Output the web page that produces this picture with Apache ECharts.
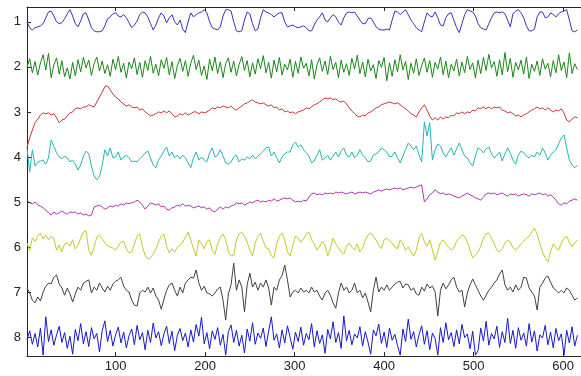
<!DOCTYPE html>
<html>
<head>
<meta charset="utf-8">
<script src="https://cdn.jsdelivr.net/npm/echarts@6/dist/echarts.min.js"></script>
<style>
  html, body { margin: 0; padding: 0; background: #fff; }
  #chart { width: 581px; height: 376px; }
</style>
</head>
<body>
<div id="chart"></div>
<script>
// samples are every 3 points starting at 1
const xStart = 1;
const xStep = 3;
const xTicks = [100, 200, 300, 400, 500, 600];
const yTicks = [1, 2, 3, 4, 5, 6, 7, 8];

const ch1 = [
  1.00,1.13,1.18,1.13,1.11,1.09,1.04,0.91,0.78,0.76,
  0.87,1.00,1.04,1.02,0.93,0.82,0.73,0.87,1.04,1.11,
  0.98,0.82,0.80,0.96,1.13,1.20,1.22,1.22,1.20,1.09,
  0.93,0.89,0.82,0.80,0.87,0.89,0.84,0.91,1.02,1.13,
  1.07,0.98,0.84,0.78,0.80,0.89,1.04,1.18,1.07,0.91,
  0.80,0.87,1.02,0.91,0.84,1.00,1.07,0.96,1.16,1.24,
  1.00,0.80,0.89,0.84,0.80,0.78,0.73,0.80,1.00,1.13,
  1.16,1.18,1.11,0.87,0.73,0.73,0.76,1.00,1.20,1.22,
  1.20,0.96,0.78,0.82,1.04,1.20,1.16,0.91,0.73,0.78,
  0.80,0.84,0.89,0.84,0.80,0.80,1.00,1.11,1.09,1.07,
  1.11,1.13,1.11,1.09,1.13,1.20,1.20,1.07,0.96,0.89,
  0.80,0.96,1.00,0.91,0.84,0.89,1.00,1.07,0.91,0.80,
  0.78,0.80,0.78,0.87,0.96,1.04,1.04,0.93,0.91,1.00,
  1.11,1.16,1.18,1.18,1.16,1.18,0.96,0.76,0.78,0.84,
  0.78,0.73,0.84,0.96,1.04,1.13,1.18,1.22,1.00,0.80,
  0.87,0.89,0.78,0.91,1.07,1.09,0.91,0.82,0.80,0.96,
  1.13,1.24,1.04,0.84,0.73,0.76,0.78,0.87,1.04,1.13,
  1.16,1.18,1.04,0.91,0.80,0.78,0.80,0.78,0.82,0.96,
  1.11,0.82,0.76,0.73,0.80,0.91,1.09,1.20,1.20,1.16,
  0.89,0.78,0.78,0.91,0.89,0.80,0.84,0.89,0.82,0.78,
  0.76,0.73,0.96,1.20,1.22,1.18
];

const ch2 = [
  2.00,1.82,2.13,1.88,2.18,1.91,1.73,2.07,1.70,2.24,
  1.96,1.80,2.16,1.86,2.22,2.02,2.27,1.90,2.20,1.84,
  2.11,1.79,2.02,1.85,2.19,1.93,1.78,2.09,1.87,2.15,
  1.95,2.21,1.83,2.06,1.77,2.12,1.92,2.25,1.89,2.04,
  1.80,2.17,1.90,2.23,1.86,2.08,1.76,2.14,1.94,2.20,
  1.84,2.03,1.79,2.18,1.88,2.26,1.97,1.81,2.10,1.86,
  2.21,1.92,1.74,2.06,1.85,2.19,1.98,2.28,1.83,2.09,
  1.78,2.15,1.89,2.24,1.93,1.80,2.12,1.87,2.20,1.95,
  1.77,2.08,1.86,2.22,1.91,2.16,1.82,2.04,1.75,2.13,
  1.90,2.25,1.85,2.11,1.79,2.18,1.94,2.07,1.83,2.23,
  1.88,2.14,1.78,2.03,1.92,2.20,1.84,2.27,1.96,1.80,
  2.10,1.87,2.17,1.76,2.06,1.90,2.24,1.85,2.12,1.93,
  2.19,1.81,2.05,1.74,2.15,1.89,2.22,1.83,2.09,1.95,
  2.26,1.86,2.01,1.79,2.31,1.91,2.21,1.84,2.11,1.73,
  2.07,1.88,2.28,1.92,2.14,1.82,2.19,1.97,1.80,2.12,
  1.86,2.23,1.90,2.05,1.78,2.17,1.87,2.24,1.94,2.09,
  1.83,2.20,1.89,2.13,1.77,2.06,1.91,2.25,1.85,2.15,
  1.79,2.08,1.72,2.02,1.88,2.21,1.84,2.18,1.68,2.11,
  1.81,2.23,1.90,2.07,1.85,2.16,1.78,2.26,1.94,2.10,
  1.87,2.19,1.82,2.05,1.92,2.22,1.86,2.13,1.73,2.08,
  1.89,2.24,1.69,2.15,1.93,2.06
];

const ch3 = [
  3.78,3.58,3.40,3.24,3.16,3.07,3.02,3.04,3.02,3.07,
  3.04,3.13,3.24,3.18,3.16,3.09,3.02,3.00,2.93,2.91,
  2.93,2.89,2.89,2.84,2.87,2.89,2.78,2.67,2.56,2.44,
  2.42,2.51,2.60,2.67,2.71,2.78,2.82,2.87,2.84,2.89,
  2.91,2.89,2.96,2.93,3.00,3.04,3.09,3.07,3.04,3.00,
  3.02,2.98,3.02,2.98,3.04,3.11,3.09,3.04,3.07,3.02,
  3.07,3.04,3.00,3.00,3.04,3.00,3.02,3.00,2.96,2.91,
  2.93,2.89,2.91,2.87,2.89,2.91,2.87,2.93,2.96,2.91,
  2.87,2.82,2.80,2.76,2.73,2.78,2.80,2.82,2.80,2.84,
  2.87,2.84,2.91,2.89,2.96,2.93,3.00,2.98,3.02,3.00,
  3.04,3.00,2.98,2.96,2.91,2.93,2.89,2.84,2.82,2.78,
  2.73,2.69,2.71,2.69,2.73,2.71,2.76,2.78,2.76,2.82,
  2.91,2.98,3.04,3.09,3.11,3.07,3.09,3.02,3.00,2.96,
  2.91,2.89,2.84,2.82,2.80,2.78,2.80,2.82,2.80,2.84,
  2.89,2.93,2.98,3.04,3.07,3.11,3.00,2.91,2.84,2.96,
  3.09,3.18,3.13,3.18,3.11,3.16,3.11,3.13,3.07,3.09,
  3.02,3.04,3.00,3.04,3.00,3.02,2.96,2.98,2.91,2.93,
  2.89,2.93,2.89,2.93,2.89,2.91,2.89,2.96,2.98,3.02,
  3.00,3.04,3.09,3.07,3.11,3.07,3.04,3.00,2.96,2.93,
  2.89,2.93,2.91,2.96,2.91,2.96,3.00,2.96,2.98,2.93,
  3.02,3.18,3.22,3.16,3.11,3.13
];

const ch4 = [
  3.80,4.33,3.84,4.20,4.11,4.09,4.07,4.16,4.02,3.62,
  3.76,3.91,4.00,4.04,3.98,4.02,4.11,4.07,4.16,4.29,
  4.18,3.98,3.87,3.93,4.20,4.42,4.51,4.44,4.18,3.84,
  3.98,3.80,4.02,4.00,3.89,4.07,4.00,3.96,4.02,4.11,
  4.09,4.11,4.04,3.98,3.91,3.87,4.02,4.18,4.24,4.07,
  3.98,3.87,3.78,3.98,3.89,4.02,3.96,4.04,3.96,4.02,
  4.13,4.24,4.02,3.89,4.07,4.00,4.07,4.11,3.91,3.80,
  4.00,3.96,3.84,3.98,4.13,4.16,4.11,4.00,3.96,4.11,
  4.04,4.07,4.00,4.04,3.96,4.04,3.98,3.93,3.87,3.80,
  3.78,3.98,3.89,4.02,4.13,4.00,3.93,3.89,3.89,3.73,
  3.67,3.78,3.73,3.84,3.91,3.98,4.13,4.09,3.96,3.84,
  4.07,4.02,3.96,4.07,3.98,3.89,4.00,3.87,3.80,3.96,
  4.00,3.89,4.02,3.96,3.84,3.96,4.02,4.11,4.09,3.96,
  3.93,3.89,3.80,3.84,3.89,4.00,3.98,3.89,4.02,4.13,
  3.98,3.84,3.69,3.76,3.84,3.76,3.96,4.11,3.22,3.53,
  3.24,4.07,3.84,3.71,3.76,3.91,4.00,3.89,3.80,3.96,
  3.82,3.69,3.84,3.98,4.02,4.13,4.20,3.98,3.80,3.84,
  3.91,3.82,3.78,3.93,4.02,3.96,3.89,4.09,3.93,3.80,
  3.91,4.07,4.16,3.96,3.87,3.91,3.98,4.02,3.96,4.00,
  3.89,3.96,3.80,3.91,4.07,3.96,3.89,3.84,3.71,3.58,
  3.51,3.80,4.07,4.18,4.24,4.18
];

const ch5 = [
  4.96,5.02,5.04,5.00,5.07,5.09,5.13,5.18,5.24,5.29,
  5.22,5.27,5.24,5.20,5.24,5.27,5.22,5.24,5.22,5.27,
  5.24,5.29,5.27,5.31,5.29,5.11,5.09,5.07,5.11,5.16,
  5.13,5.09,5.11,5.07,5.09,5.04,5.07,5.02,5.04,5.02,
  5.00,4.96,5.00,5.07,5.16,5.09,5.02,5.04,5.07,5.04,
  5.11,5.09,5.16,5.18,5.13,5.11,5.07,5.09,5.04,5.09,
  5.07,5.09,5.13,5.11,5.09,5.13,5.11,5.16,5.13,5.20,
  5.22,5.16,5.11,5.16,5.11,5.13,5.09,5.07,5.02,5.04,
  5.02,5.07,5.04,5.00,5.02,4.98,4.96,5.00,4.98,5.00,
  4.96,4.98,4.93,4.98,4.96,4.93,4.91,4.93,4.91,4.96,
  5.00,4.98,5.00,4.96,4.98,4.89,4.82,4.80,4.84,4.82,
  4.84,4.80,4.82,4.80,4.82,4.78,4.80,4.78,4.80,4.82,
  4.80,4.78,4.82,4.80,4.78,4.80,4.78,4.80,4.82,4.78,
  4.76,4.73,4.76,4.73,4.71,4.73,4.71,4.69,4.71,4.69,
  4.73,4.71,4.69,4.67,4.69,4.67,4.64,4.62,5.00,4.93,
  4.84,4.80,4.73,4.78,4.82,4.80,4.84,4.82,4.84,4.87,
  4.89,4.91,4.87,4.84,4.80,4.84,4.87,4.91,4.93,4.96,
  4.89,4.82,4.80,4.82,4.80,4.84,4.82,4.80,4.84,4.87,
  4.82,4.84,4.82,4.87,4.84,4.82,4.84,4.87,4.82,4.84,
  4.82,4.80,4.84,4.82,4.87,4.84,4.89,4.96,5.04,5.07,
  5.02,5.04,4.98,4.96,4.93,4.96
];

const ch6 = [
  5.91,6.07,5.80,5.87,5.76,5.69,5.82,5.73,5.84,5.76,
  5.80,6.07,5.96,6.11,5.93,5.91,5.98,5.84,6.04,5.96,
  5.80,5.67,5.64,6.07,6.18,6.00,5.78,5.73,5.82,5.91,
  5.98,6.00,6.02,6.07,5.98,5.89,5.87,6.04,6.13,6.11,
  5.93,5.76,5.71,6.00,6.18,6.27,6.24,6.16,6.04,5.89,
  5.76,5.71,5.98,6.13,6.04,6.11,6.00,5.96,5.89,5.78,
  5.67,5.84,6.04,6.20,5.84,5.93,6.04,5.87,5.84,6.07,
  6.16,5.93,5.80,5.71,5.84,6.11,6.20,6.18,5.84,5.71,
  5.67,5.76,5.89,6.07,6.20,5.91,5.76,5.69,5.87,6.02,
  6.04,6.20,6.24,5.93,5.76,5.69,5.84,6.11,6.20,5.96,
  5.76,5.80,5.89,5.82,5.71,5.67,5.84,5.93,6.07,5.98,
  5.87,5.96,6.20,6.04,5.80,5.93,6.02,6.11,6.16,5.98,
  5.91,6.00,6.07,5.93,6.11,6.02,5.84,5.73,5.69,5.76,
  5.84,5.96,6.04,5.84,5.80,5.87,5.91,6.00,6.04,5.84,
  5.93,6.07,6.00,6.11,6.20,6.07,5.80,5.69,5.89,5.98,
  5.84,6.07,6.29,6.11,5.89,5.84,5.93,6.00,6.07,6.02,
  5.87,5.80,5.73,5.76,5.89,6.07,6.24,6.18,6.11,5.98,
  5.80,5.71,5.69,5.80,5.93,6.07,6.11,6.04,5.91,5.84,
  5.89,6.02,6.07,6.00,5.93,5.87,5.80,5.76,5.67,5.58,
  5.71,5.93,6.11,6.24,6.33,6.11,5.93,6.02,6.07,5.91,
  5.80,5.76,5.89,6.00,5.91,5.84
];

const ch7 = [
  6.91,7.02,7.18,7.24,7.11,7.20,7.00,6.87,6.80,6.82,
  6.67,6.62,6.82,6.91,7.07,6.91,7.04,7.22,7.04,6.89,
  6.96,6.80,6.76,6.73,7.02,6.89,6.96,6.80,6.91,7.00,
  6.87,6.96,6.82,6.76,6.73,6.67,6.87,6.96,7.00,7.18,
  7.29,7.31,7.02,6.96,7.00,6.89,7.02,6.91,7.09,7.18,
  7.38,7.16,6.96,6.84,6.80,6.96,7.09,6.89,7.02,6.80,
  6.73,6.67,6.69,6.51,6.80,6.96,6.87,7.02,7.04,7.09,
  7.02,6.93,6.89,7.18,7.62,7.04,6.84,6.36,6.96,6.73,
  6.89,7.44,6.84,6.58,6.89,6.78,6.96,6.80,6.89,6.73,
  6.91,7.29,6.89,6.96,6.73,6.64,6.40,6.73,7.11,7.00,
  6.96,7.02,6.91,7.00,6.96,7.02,6.89,7.00,6.96,7.09,
  7.18,7.02,6.96,7.07,7.24,7.36,7.02,6.80,6.96,6.89,
  7.02,6.96,6.80,7.02,6.96,7.13,7.02,7.22,7.44,6.96,
  6.67,7.00,6.89,6.96,6.84,6.96,6.89,6.82,6.78,6.76,
  6.91,6.82,6.84,6.96,6.91,7.04,7.07,6.89,6.98,6.82,
  6.91,6.87,7.00,7.53,6.96,6.80,6.93,6.84,6.73,6.67,
  6.89,7.00,6.96,7.33,7.02,6.84,6.71,6.84,6.96,7.09,
  7.18,7.07,6.96,6.89,6.80,6.73,6.60,6.51,6.84,6.96,
  6.89,7.00,6.84,6.96,6.89,6.67,6.69,6.91,7.00,7.09,
  7.40,6.89,6.80,6.69,6.64,6.78,6.91,6.96,7.02,6.96,
  7.02,6.91,6.96,7.07,7.18,7.13
];

const ch8 = [
  8.05,7.86,8.16,7.92,8.22,7.80,8.40,7.55,8.10,7.84,
  8.18,7.95,7.76,8.12,7.90,8.25,7.98,8.38,7.83,8.08,
  7.70,8.15,7.88,8.21,7.79,8.04,7.92,8.33,7.86,7.64,
  8.10,7.85,8.20,7.95,7.78,8.13,7.89,8.24,7.97,7.82,
  8.17,7.74,8.06,7.90,8.28,7.85,8.12,7.69,8.02,7.88,
  8.19,7.93,7.76,8.14,7.87,8.30,7.96,7.81,8.08,7.91,
  8.22,7.84,8.11,7.72,7.98,7.56,8.15,7.90,8.26,7.86,
  8.05,7.79,8.18,7.94,8.40,7.88,7.73,8.12,7.85,8.20,
  7.96,8.35,7.82,8.09,7.68,8.16,7.91,8.03,7.80,8.21,
  7.87,7.55,8.07,7.93,8.24,7.84,8.13,7.75,8.01,8.27,
  7.89,8.10,7.78,8.18,7.92,8.06,7.70,8.22,7.86,8.14,
  7.95,8.36,7.83,8.04,7.66,8.12,7.90,8.25,7.53,8.08,
  7.85,8.17,7.93,8.02,7.77,8.20,7.88,8.11,8.38,7.84,
  7.97,7.71,8.14,7.89,8.23,7.80,8.07,7.94,8.19,8.40,
  7.82,8.10,7.60,8.05,7.88,8.22,7.95,7.75,8.16,7.86,
  8.28,7.91,8.03,8.40,7.79,8.12,7.68,8.06,7.90,8.21,
  7.84,8.15,7.72,8.01,7.93,8.26,7.87,8.40,8.30,7.80,
  8.09,7.65,8.18,7.92,8.04,7.76,8.23,7.88,8.12,7.58,
  8.14,7.85,8.25,7.79,8.07,7.91,8.20,7.70,8.11,7.86,
  8.31,7.95,8.02,7.74,8.17,7.89,8.24,7.81,8.08,7.93,
  8.40,7.85,8.13,7.77,8.20,7.96
];

const channels = [ch1, ch2, ch3, ch4, ch5, ch6, ch7, ch8];
const colors = ["#3434b4", "#1c841c", "#c83434", "#22b4b4", "#b034b0", "#c6c626", "#404040", "#1818cc"];

const chart = echarts.init(document.getElementById("chart"));

const axisColor = "#262626";
const labelFont = { color: "#222", fontSize: 13, fontFamily: "Liberation Sans, Arial, sans-serif" };

chart.setOption({
  animation: false,
  grid: { left: 27, top: 7, width: 558, height: 349 },
  xAxis: [
    {
      type: "value",
      min: 1,
      max: 620,
      position: "bottom",
      axisLine: { show: true, onZero: false, lineStyle: { color: axisColor, width: 1 } },
      axisTick: { show: true, inside: true, length: 4, customValues: xTicks, lineStyle: { color: axisColor } },
      axisLabel: Object.assign({ customValues: xTicks, margin: 4 }, labelFont),
      splitLine: { show: false },
    },
    {
      type: "value",
      min: 1,
      max: 620,
      position: "top",
      axisLine: { show: true, onZero: false, lineStyle: { color: axisColor, width: 1 } },
      axisTick: { show: true, inside: true, length: 4, customValues: xTicks, lineStyle: { color: axisColor } },
      axisLabel: { show: false },
      splitLine: { show: false },
    },
  ],
  yAxis: {
    type: "value",
    inverse: true,
    min: 0.67,
    max: 8.42,
    axisLine: { show: true, onZero: false, lineStyle: { color: axisColor, width: 1 } },
    axisTick: { show: true, inside: true, length: 4, customValues: yTicks, lineStyle: { color: axisColor } },
    axisLabel: Object.assign({ customValues: yTicks, margin: 6 }, labelFont),
    splitLine: { show: false },
  },
  series: channels.map((vals, k) => ({
    name: "ch" + (k + 1),
    type: "line",
    xAxisIndex: 0,
    showSymbol: false,
    symbol: "none",
    silent: true,
    data: vals.map((v, i) => [xStart + i * xStep, v]),
    lineStyle: { color: colors[k], width: 1 },
  })),
});
</script>
</body>
</html>
